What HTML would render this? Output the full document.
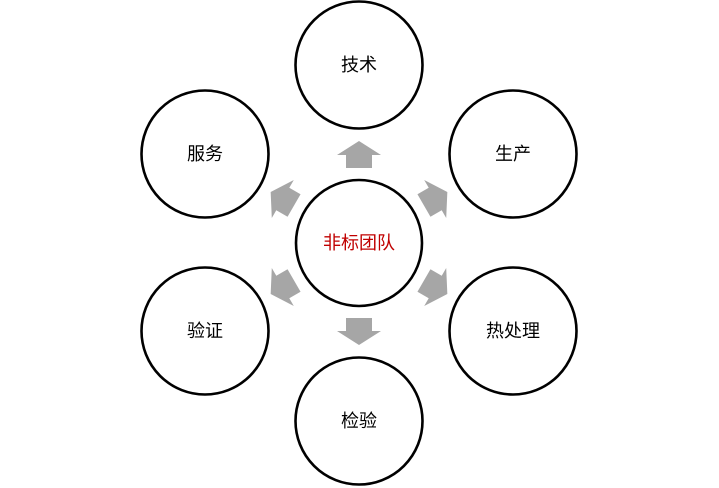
<!DOCTYPE html>
<html><head><meta charset="utf-8"><style>body{margin:0;background:#fff}</style></head><body>
<svg width="719" height="488" viewBox="0 0 719 488" xmlns="http://www.w3.org/2000/svg" style="display:block">
<g fill="#a6a6a6">
<g transform="translate(359,243)">
<polygon id="a" points="0,-102 22,-88 13,-88 13,-75 -13,-75 -13,-88 -22,-88"/>
<use href="#a" transform="rotate(60)"/>
<use href="#a" transform="rotate(120)"/>
<use href="#a" transform="rotate(180)"/>
<use href="#a" transform="rotate(240)"/>
<use href="#a" transform="rotate(300)"/>
</g>
</g>
<g fill="#fff" stroke="#000" stroke-width="2.6">
<circle cx="359" cy="243" r="63"/>
<circle cx="359" cy="65" r="63.5"/>
<circle cx="513" cy="154" r="63.5"/>
<circle cx="513" cy="331" r="63.5"/>
<circle cx="359" cy="421" r="63.5"/>
<circle cx="205" cy="331" r="63.5"/>
<circle cx="205" cy="154" r="63.5"/>
</g>
<g font-family="'Liberation Sans','Noto Sans CJK SC',sans-serif" font-size="18" text-anchor="middle" fill="#000">
<text x="359" y="249" fill="#c00000">非标团队</text>
<text x="359" y="71">技术</text>
<text x="513" y="160">生产</text>
<text x="513" y="337">热处理</text>
<text x="359" y="427">检验</text>
<text x="205" y="337">验证</text>
<text x="205" y="160">服务</text>
</g>
</svg>
</body></html>
